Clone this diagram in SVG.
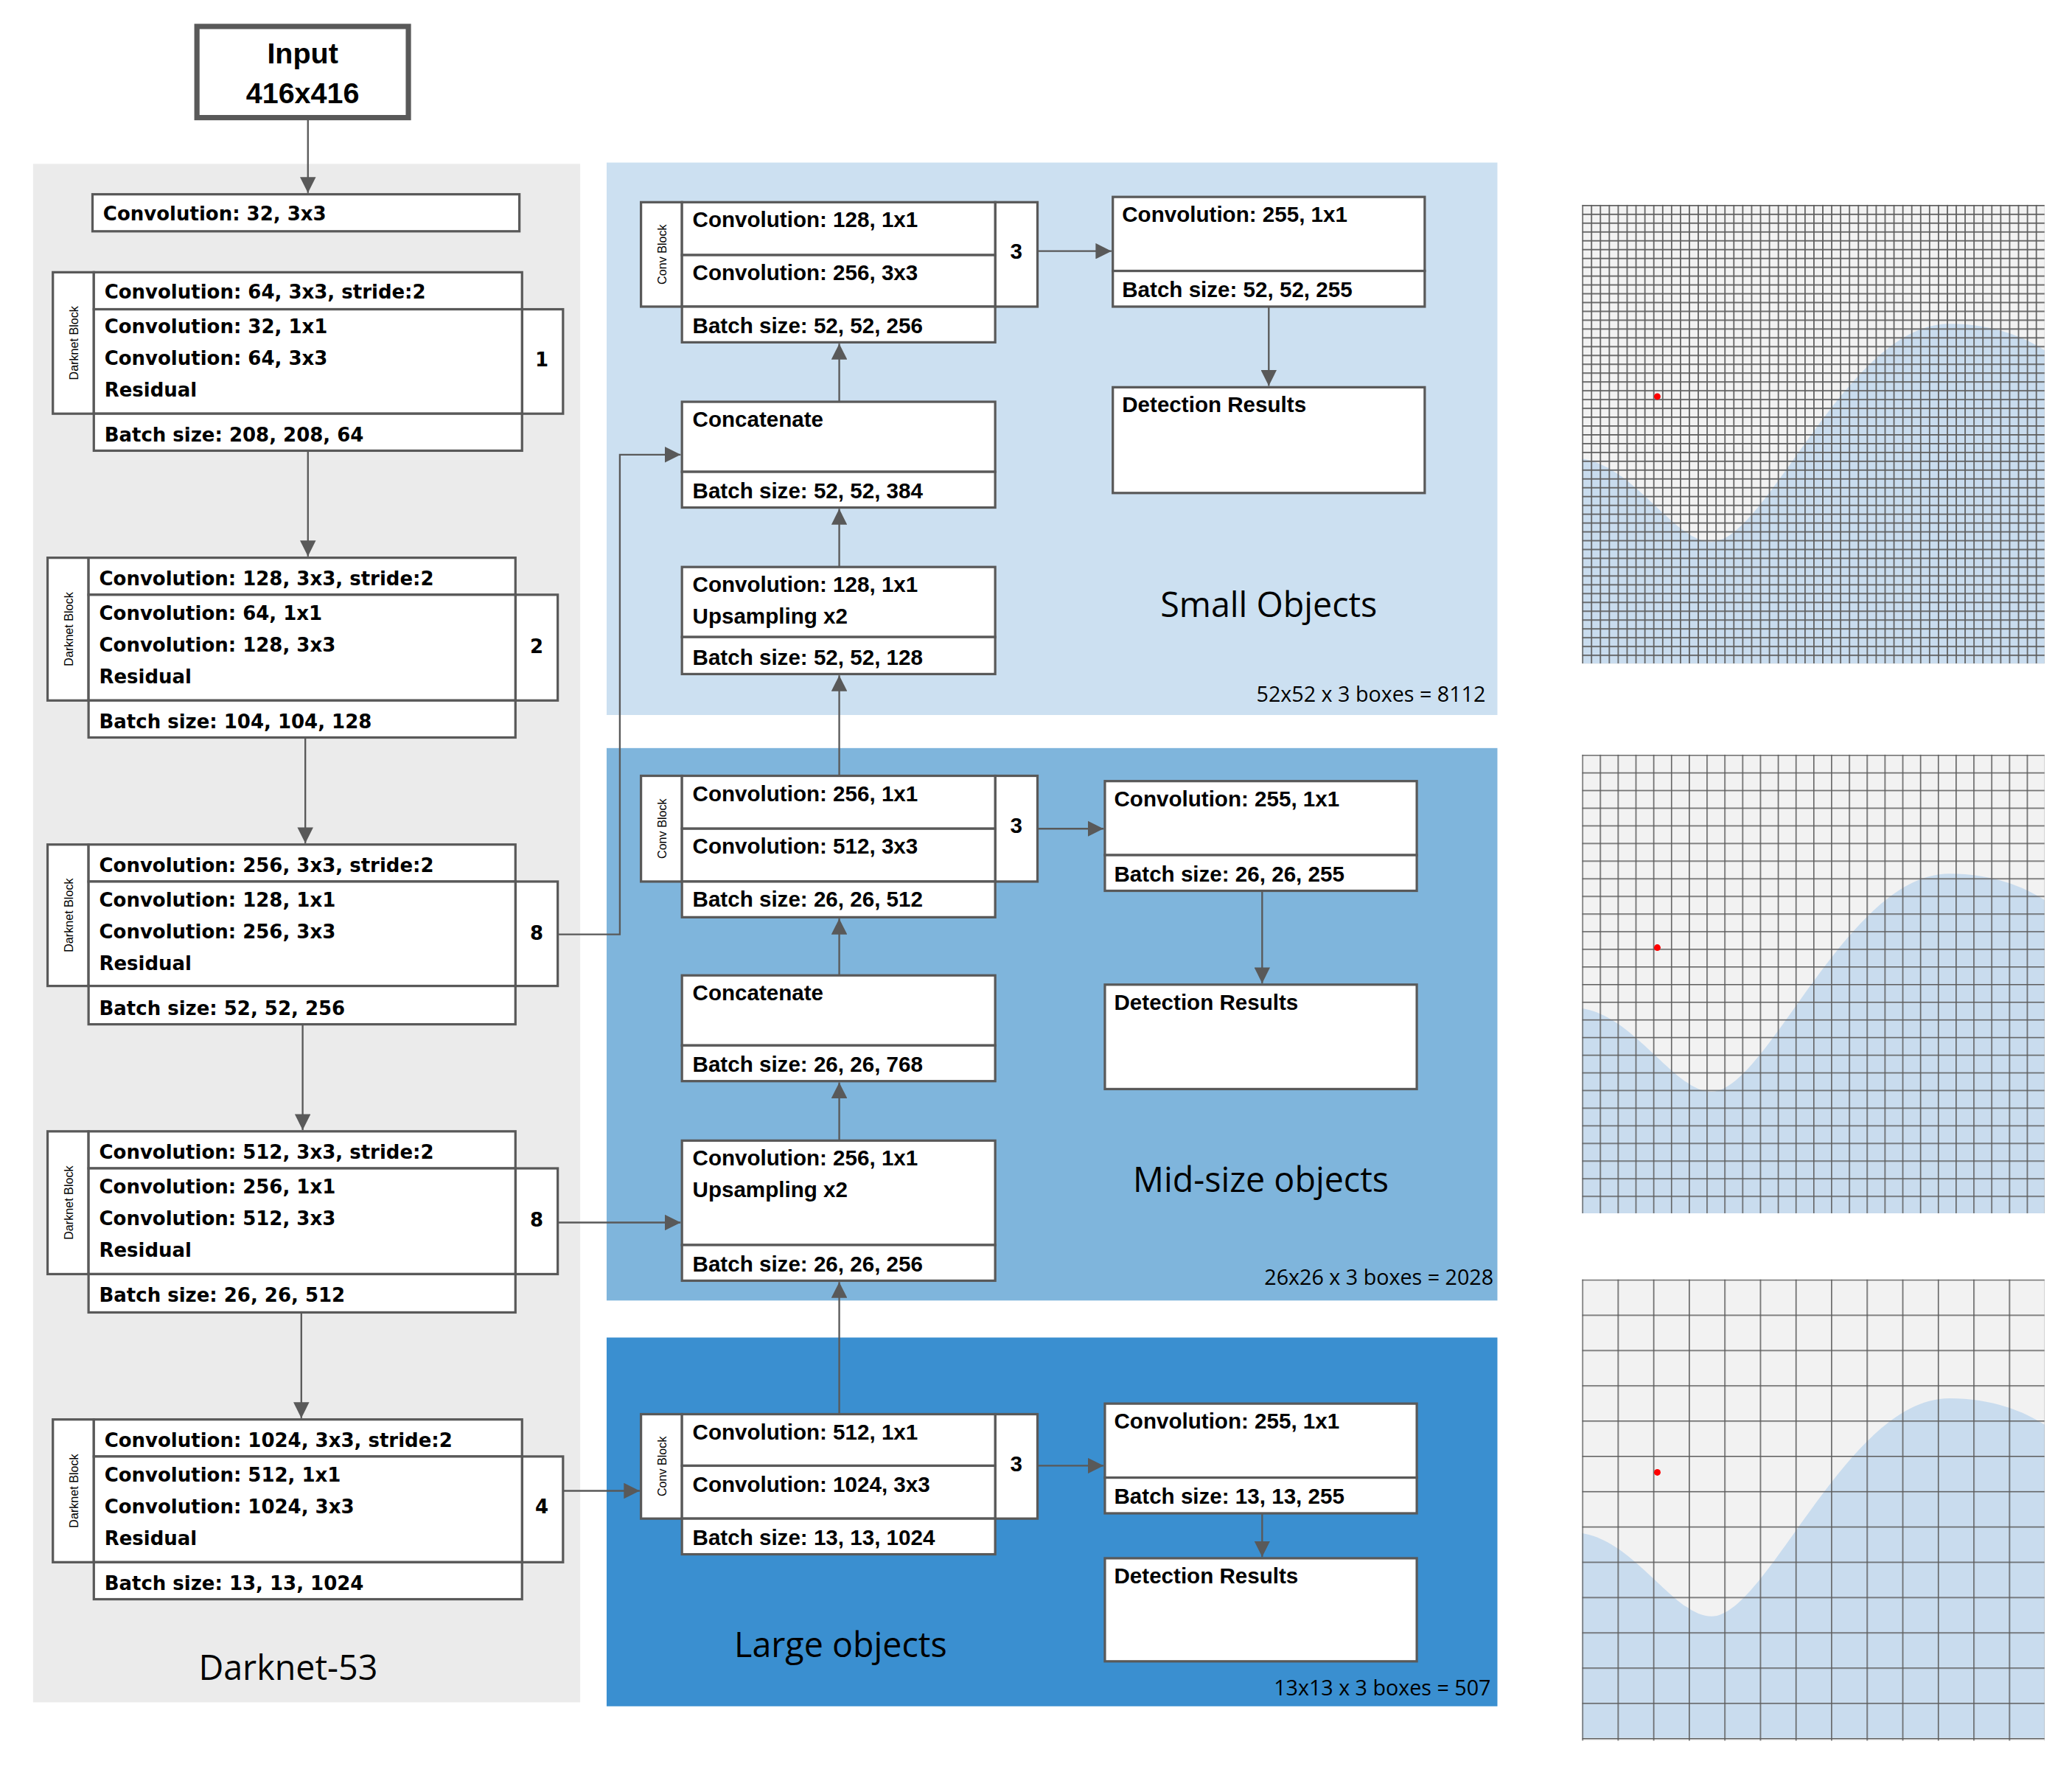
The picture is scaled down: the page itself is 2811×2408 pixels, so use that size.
<svg xmlns="http://www.w3.org/2000/svg" width="2811" height="2408" viewBox="0 0 2811 2408">
<style>
.b{fill:#fff;stroke:#595959;stroke-width:1.8}
.t{font-family:"DejaVu Sans",Verdana,sans-serif;font-weight:bold;font-size:14.5px;fill:#000}
.r{font-family:"Liberation Sans",Arial,sans-serif;font-weight:bold;font-size:16.5px;fill:#000}
.v{font-family:"Liberation Sans",Arial,sans-serif;font-size:9px;fill:#000;text-anchor:middle}
.big{font-family:"Open Sans","Liberation Sans",sans-serif;font-size:26px;fill:#000;text-anchor:middle}
.cnt{font-family:"Open Sans","Liberation Sans",sans-serif;font-size:16px;fill:#000;text-anchor:end}
.c{fill:none;stroke:#595959;stroke-width:1.3}
.gl{fill:none;stroke:#5c5c5c;}
.wave{fill:#c9dcee}
</style>
<defs>
<marker id="ah" markerUnits="userSpaceOnUse" markerWidth="12" markerHeight="12" refX="12" refY="6" orient="auto"><path d="M0,0 L12,6 L0,12 z" fill="#595959"/></marker>
<pattern id="g1" patternUnits="userSpaceOnUse" x="1197" y="155" width="6.731" height="6.673"><path d="M6.731 0 L0 0 0 6.673" class="gl" stroke-width="1.9"/></pattern>
<pattern id="g2" patternUnits="userSpaceOnUse" x="1197" y="571" width="13.46" height="13.35"><path d="M13.46 0 L0 0 0 13.35" class="gl" stroke-width="1.7"/></pattern>
<pattern id="g3" patternUnits="userSpaceOnUse" x="1197" y="968" width="26.92" height="26.7"><path d="M26.92 0 L0 0 0 26.7" class="gl" stroke-width="1.7"/></pattern>
<path id="wv" d="M0,192 C40,198 70,255 98,255 C140,255 200,90 278,90 C310,90 335,100 350,110 L350,347 L0,347 Z"/>
</defs>
<rect width="2811" height="2408" fill="#fff"/>
<g transform="scale(1.793)">
<g id="panels">
<rect x="25" y="124" width="414" height="1164" fill="#ebebeb"/>
<rect x="459" y="123" width="674" height="418" fill="#cce0f1"/>
<rect x="459" y="566" width="674" height="418" fill="#7fb5dc"/>
<rect x="459" y="1012" width="674" height="279" fill="#3a8fd0"/>
<text class="big" x="218" y="1271">Darknet-53</text>
<text class="big" x="960" y="467">Small Objects</text>
<text class="big" x="954" y="902">Mid-size objects</text>
<text class="big" x="636" y="1254">Large objects</text>
<text class="cnt" x="1124" y="531">52x52 x 3 boxes = 8112</text>
<text class="cnt" x="1130" y="972">26x26 x 3 boxes = 2028</text>
<text class="cnt" x="1128" y="1283">13x13 x 3 boxes = 507</text>
</g>
<g id="input">
<rect x="149" y="20" width="160" height="69" fill="#fff" stroke="#595959" stroke-width="4"/>
<text x="229" y="48" text-anchor="middle" style="font-family:'Liberation Sans',Arial,sans-serif;font-weight:bold;font-size:22px">Input</text>
<text x="229" y="78" text-anchor="middle" style="font-family:'Liberation Sans',Arial,sans-serif;font-weight:bold;font-size:22px">416x416</text>
</g>
<g id="conv32">
<rect class="b" x="70" y="147" width="323" height="28"/>
<text class="t" x="78" y="167">Convolution: 32,  3x3</text>
</g>
<g id="dark1">
<rect class="b" x="40" y="206" width="31" height="107"/>
<text class="v" transform="translate(59,259.500) rotate(-90)">Darknet Block</text>
<rect class="b" x="71" y="206" width="324" height="28"/>
<rect class="b" x="395" y="234" width="31" height="79"/>
<rect class="b" x="71" y="234" width="324" height="79"/>
<rect class="b" x="71" y="313" width="324" height="28"/>
<text class="t" x="79" y="226">Convolution: 64,  3x3, stride:2</text>
<text class="t" x="79" y="252">Convolution: 32, 1x1</text>
<text class="t" x="79" y="276">Convolution: 64, 3x3</text>
<text class="t" x="79" y="300">Residual</text>
<text class="t" x="79" y="334">Batch size: 208, 208, 64</text>
<text class="t" x="410" y="277" text-anchor="middle">1</text>
</g>
<g id="dark2">
<rect class="b" x="36" y="422" width="31" height="108"/>
<text class="v" transform="translate(55,476) rotate(-90)">Darknet Block</text>
<rect class="b" x="67" y="422" width="323" height="28"/>
<rect class="b" x="390" y="450" width="32" height="80"/>
<rect class="b" x="67" y="450" width="323" height="80"/>
<rect class="b" x="67" y="530" width="323" height="28"/>
<text class="t" x="75" y="443">Convolution: 128,  3x3, stride:2</text>
<text class="t" x="75" y="469">Convolution: 64, 1x1</text>
<text class="t" x="75" y="493">Convolution: 128, 3x3</text>
<text class="t" x="75" y="517">Residual</text>
<text class="t" x="75" y="551">Batch size: 104, 104, 128</text>
<text class="t" x="406" y="494" text-anchor="middle">2</text>
</g>
<g id="dark3">
<rect class="b" x="36" y="639" width="31" height="107"/>
<text class="v" transform="translate(55,692.500) rotate(-90)">Darknet Block</text>
<rect class="b" x="67" y="639" width="323" height="28"/>
<rect class="b" x="390" y="667" width="32" height="79"/>
<rect class="b" x="67" y="667" width="323" height="79"/>
<rect class="b" x="67" y="746" width="323" height="29"/>
<text class="t" x="75" y="660">Convolution: 256,  3x3, stride:2</text>
<text class="t" x="75" y="686">Convolution: 128, 1x1</text>
<text class="t" x="75" y="710">Convolution: 256, 3x3</text>
<text class="t" x="75" y="734">Residual</text>
<text class="t" x="75" y="768">Batch size: 52, 52, 256</text>
<text class="t" x="406" y="711" text-anchor="middle">8</text>
</g>
<g id="dark4">
<rect class="b" x="36" y="856" width="31" height="108"/>
<text class="v" transform="translate(55,910) rotate(-90)">Darknet Block</text>
<rect class="b" x="67" y="856" width="323" height="28"/>
<rect class="b" x="390" y="884" width="32" height="80"/>
<rect class="b" x="67" y="884" width="323" height="80"/>
<rect class="b" x="67" y="964" width="323" height="29"/>
<text class="t" x="75" y="877">Convolution: 512,  3x3, stride:2</text>
<text class="t" x="75" y="903">Convolution: 256, 1x1</text>
<text class="t" x="75" y="927">Convolution: 512, 3x3</text>
<text class="t" x="75" y="951">Residual</text>
<text class="t" x="75" y="985">Batch size: 26, 26, 512</text>
<text class="t" x="406" y="928" text-anchor="middle">8</text>
</g>
<g id="dark5">
<rect class="b" x="40" y="1074" width="31" height="108"/>
<text class="v" transform="translate(59,1128) rotate(-90)">Darknet Block</text>
<rect class="b" x="71" y="1074" width="324" height="28"/>
<rect class="b" x="395" y="1102" width="31" height="80"/>
<rect class="b" x="71" y="1102" width="324" height="80"/>
<rect class="b" x="71" y="1182" width="324" height="28"/>
<text class="t" x="79" y="1095">Convolution: 1024,  3x3, stride:2</text>
<text class="t" x="79" y="1121">Convolution: 512, 1x1</text>
<text class="t" x="79" y="1145">Convolution: 1024, 3x3</text>
<text class="t" x="79" y="1169">Residual</text>
<text class="t" x="79" y="1203">Batch size: 13, 13, 1024</text>
<text class="t" x="410" y="1145" text-anchor="middle">4</text>
</g>
<g id="s_conv">
<rect class="b" x="485" y="153" width="31" height="79"/>
<text class="v" transform="translate(504,192.500) rotate(-90)">Conv Block</text>
<rect class="b" x="753" y="153" width="32" height="79"/>
<rect class="b" x="516" y="153" width="237" height="40"/>
<rect class="b" x="516" y="193" width="237" height="39"/>
<rect class="b" x="516" y="232" width="237" height="27"/>
<text class="r" x="524" y="172">Convolution: 128, 1x1</text>
<text class="r" x="524" y="212">Convolution: 256, 3x3</text>
<text class="r" x="524" y="252">Batch size: 52, 52, 256</text>
<text class="r" x="769" y="196" text-anchor="middle">3</text>
</g>
<g id="s_out">
<rect class="b" x="842" y="149" width="236" height="56"/>
<rect class="b" x="842" y="205" width="236" height="27"/>
<text class="r" x="849" y="168">Convolution: 255, 1x1</text>
<text class="r" x="849" y="225">Batch size: 52, 52, 255</text>
</g>
<g id="s_det"><rect class="b" x="842" y="293" width="236" height="80"/><text class="r" x="849" y="312">Detection Results</text></g>
<g id="s_cat">
<rect class="b" x="516" y="304" width="237" height="53"/>
<rect class="b" x="516" y="357" width="237" height="27"/>
<text class="r" x="524" y="323">Concatenate</text>
<text class="r" x="524" y="377">Batch size: 52, 52, 384</text>
</g>
<g id="s_up">
<rect class="b" x="516" y="429" width="237" height="53"/>
<rect class="b" x="516" y="482" width="237" height="28"/>
<text class="r" x="524" y="448">Convolution: 128, 1x1</text>
<text class="r" x="524" y="472">Upsampling x2</text>
<text class="r" x="524" y="503">Batch size: 52, 52, 128</text>
</g>
<g id="m_conv">
<rect class="b" x="485" y="587" width="31" height="80"/>
<text class="v" transform="translate(504,627) rotate(-90)">Conv Block</text>
<rect class="b" x="753" y="587" width="32" height="80"/>
<rect class="b" x="516" y="587" width="237" height="40"/>
<rect class="b" x="516" y="627" width="237" height="40"/>
<rect class="b" x="516" y="667" width="237" height="27"/>
<text class="r" x="524" y="606">Convolution: 256, 1x1</text>
<text class="r" x="524" y="646">Convolution: 512, 3x3</text>
<text class="r" x="524" y="686">Batch size: 26, 26, 512</text>
<text class="r" x="769" y="630" text-anchor="middle">3</text>
</g>
<g id="m_out">
<rect class="b" x="836" y="591" width="236" height="56"/>
<rect class="b" x="836" y="647" width="236" height="27"/>
<text class="r" x="843" y="610">Convolution: 255, 1x1</text>
<text class="r" x="843" y="667">Batch size: 26, 26, 255</text>
</g>
<g id="m_det"><rect class="b" x="836" y="745" width="236" height="79"/><text class="r" x="843" y="764">Detection Results</text></g>
<g id="m_cat">
<rect class="b" x="516" y="738" width="237" height="53"/>
<rect class="b" x="516" y="791" width="237" height="27"/>
<text class="r" x="524" y="757">Concatenate</text>
<text class="r" x="524" y="811">Batch size: 26, 26, 768</text>
</g>
<g id="m_up">
<rect class="b" x="516" y="863" width="237" height="79"/>
<rect class="b" x="516" y="942" width="237" height="27"/>
<text class="r" x="524" y="882">Convolution: 256, 1x1</text>
<text class="r" x="524" y="906">Upsampling x2</text>
<text class="r" x="524" y="962">Batch size: 26, 26, 256</text>
</g>
<g id="l_conv">
<rect class="b" x="485" y="1070" width="31" height="79"/>
<text class="v" transform="translate(504,1109.500) rotate(-90)">Conv Block</text>
<rect class="b" x="753" y="1070" width="32" height="79"/>
<rect class="b" x="516" y="1070" width="237" height="39"/>
<rect class="b" x="516" y="1109" width="237" height="40"/>
<rect class="b" x="516" y="1149" width="237" height="27"/>
<text class="r" x="524" y="1089">Convolution: 512, 1x1</text>
<text class="r" x="524" y="1129">Convolution: 1024, 3x3</text>
<text class="r" x="524" y="1169">Batch size: 13, 13, 1024</text>
<text class="r" x="769" y="1113" text-anchor="middle">3</text>
</g>
<g id="l_out">
<rect class="b" x="836" y="1062" width="236" height="56"/>
<rect class="b" x="836" y="1118" width="236" height="27"/>
<text class="r" x="843" y="1081">Convolution: 255, 1x1</text>
<text class="r" x="843" y="1138">Batch size: 13, 13, 255</text>
</g>
<g id="l_det"><rect class="b" x="836" y="1179" width="236" height="78"/><text class="r" x="843" y="1198">Detection Results</text></g>
<g id="connectors">
<path class="c" d="M233,89 V146" marker-end="url(#ah)"/>
<path class="c" d="M233,341 V421" marker-end="url(#ah)"/>
<path class="c" d="M231,558 V638" marker-end="url(#ah)"/>
<path class="c" d="M229,775 V855" marker-end="url(#ah)"/>
<path class="c" d="M228,993 V1073" marker-end="url(#ah)"/>
<path class="c" d="M422,707 H469 V344 H515" marker-end="url(#ah)"/>
<path class="c" d="M422,925 H515" marker-end="url(#ah)"/>
<path class="c" d="M426,1128 H484" marker-end="url(#ah)"/>
<path class="c" d="M785,190 H841" marker-end="url(#ah)"/>
<path class="c" d="M960,232 V292" marker-end="url(#ah)"/>
<path class="c" d="M635,304 V260" marker-end="url(#ah)"/>
<path class="c" d="M635,429 V385" marker-end="url(#ah)"/>
<path class="c" d="M635,587 V511" marker-end="url(#ah)"/>
<path class="c" d="M785,627 H835" marker-end="url(#ah)"/>
<path class="c" d="M955,674 V744" marker-end="url(#ah)"/>
<path class="c" d="M635,738 V695" marker-end="url(#ah)"/>
<path class="c" d="M635,863 V819" marker-end="url(#ah)"/>
<path class="c" d="M635,1070 V970" marker-end="url(#ah)"/>
<path class="c" d="M785,1109 H835" marker-end="url(#ah)"/>
<path class="c" d="M955,1145 V1178" marker-end="url(#ah)"/>
</g>
<g id="grid52">
<rect x="1197" y="155" width="350" height="347" fill="#f2f2f2"/>
<use href="#wv" class="wave" transform="translate(1197,155)"/>
<rect x="1197" y="155" width="350" height="347" fill="url(#g1)"/>
<circle cx="1254" cy="300" r="2.5" fill="#f00"/>
</g>
<g id="grid26">
<rect x="1197" y="571" width="350" height="347" fill="#f2f2f2"/>
<use href="#wv" class="wave" transform="translate(1197,571)"/>
<rect x="1197" y="571" width="350" height="347" fill="url(#g2)"/>
<circle cx="1254" cy="717" r="2.5" fill="#f00"/>
</g>
<g id="grid13">
<rect x="1197" y="968" width="350" height="349" fill="#f2f2f2"/>
<use href="#wv" class="wave" transform="translate(1197,968)"/>
<rect x="1197" y="968" width="350" height="349" fill="url(#g3)"/>
<circle cx="1254" cy="1114" r="2.5" fill="#f00"/>
</g>
</g>
</svg>
